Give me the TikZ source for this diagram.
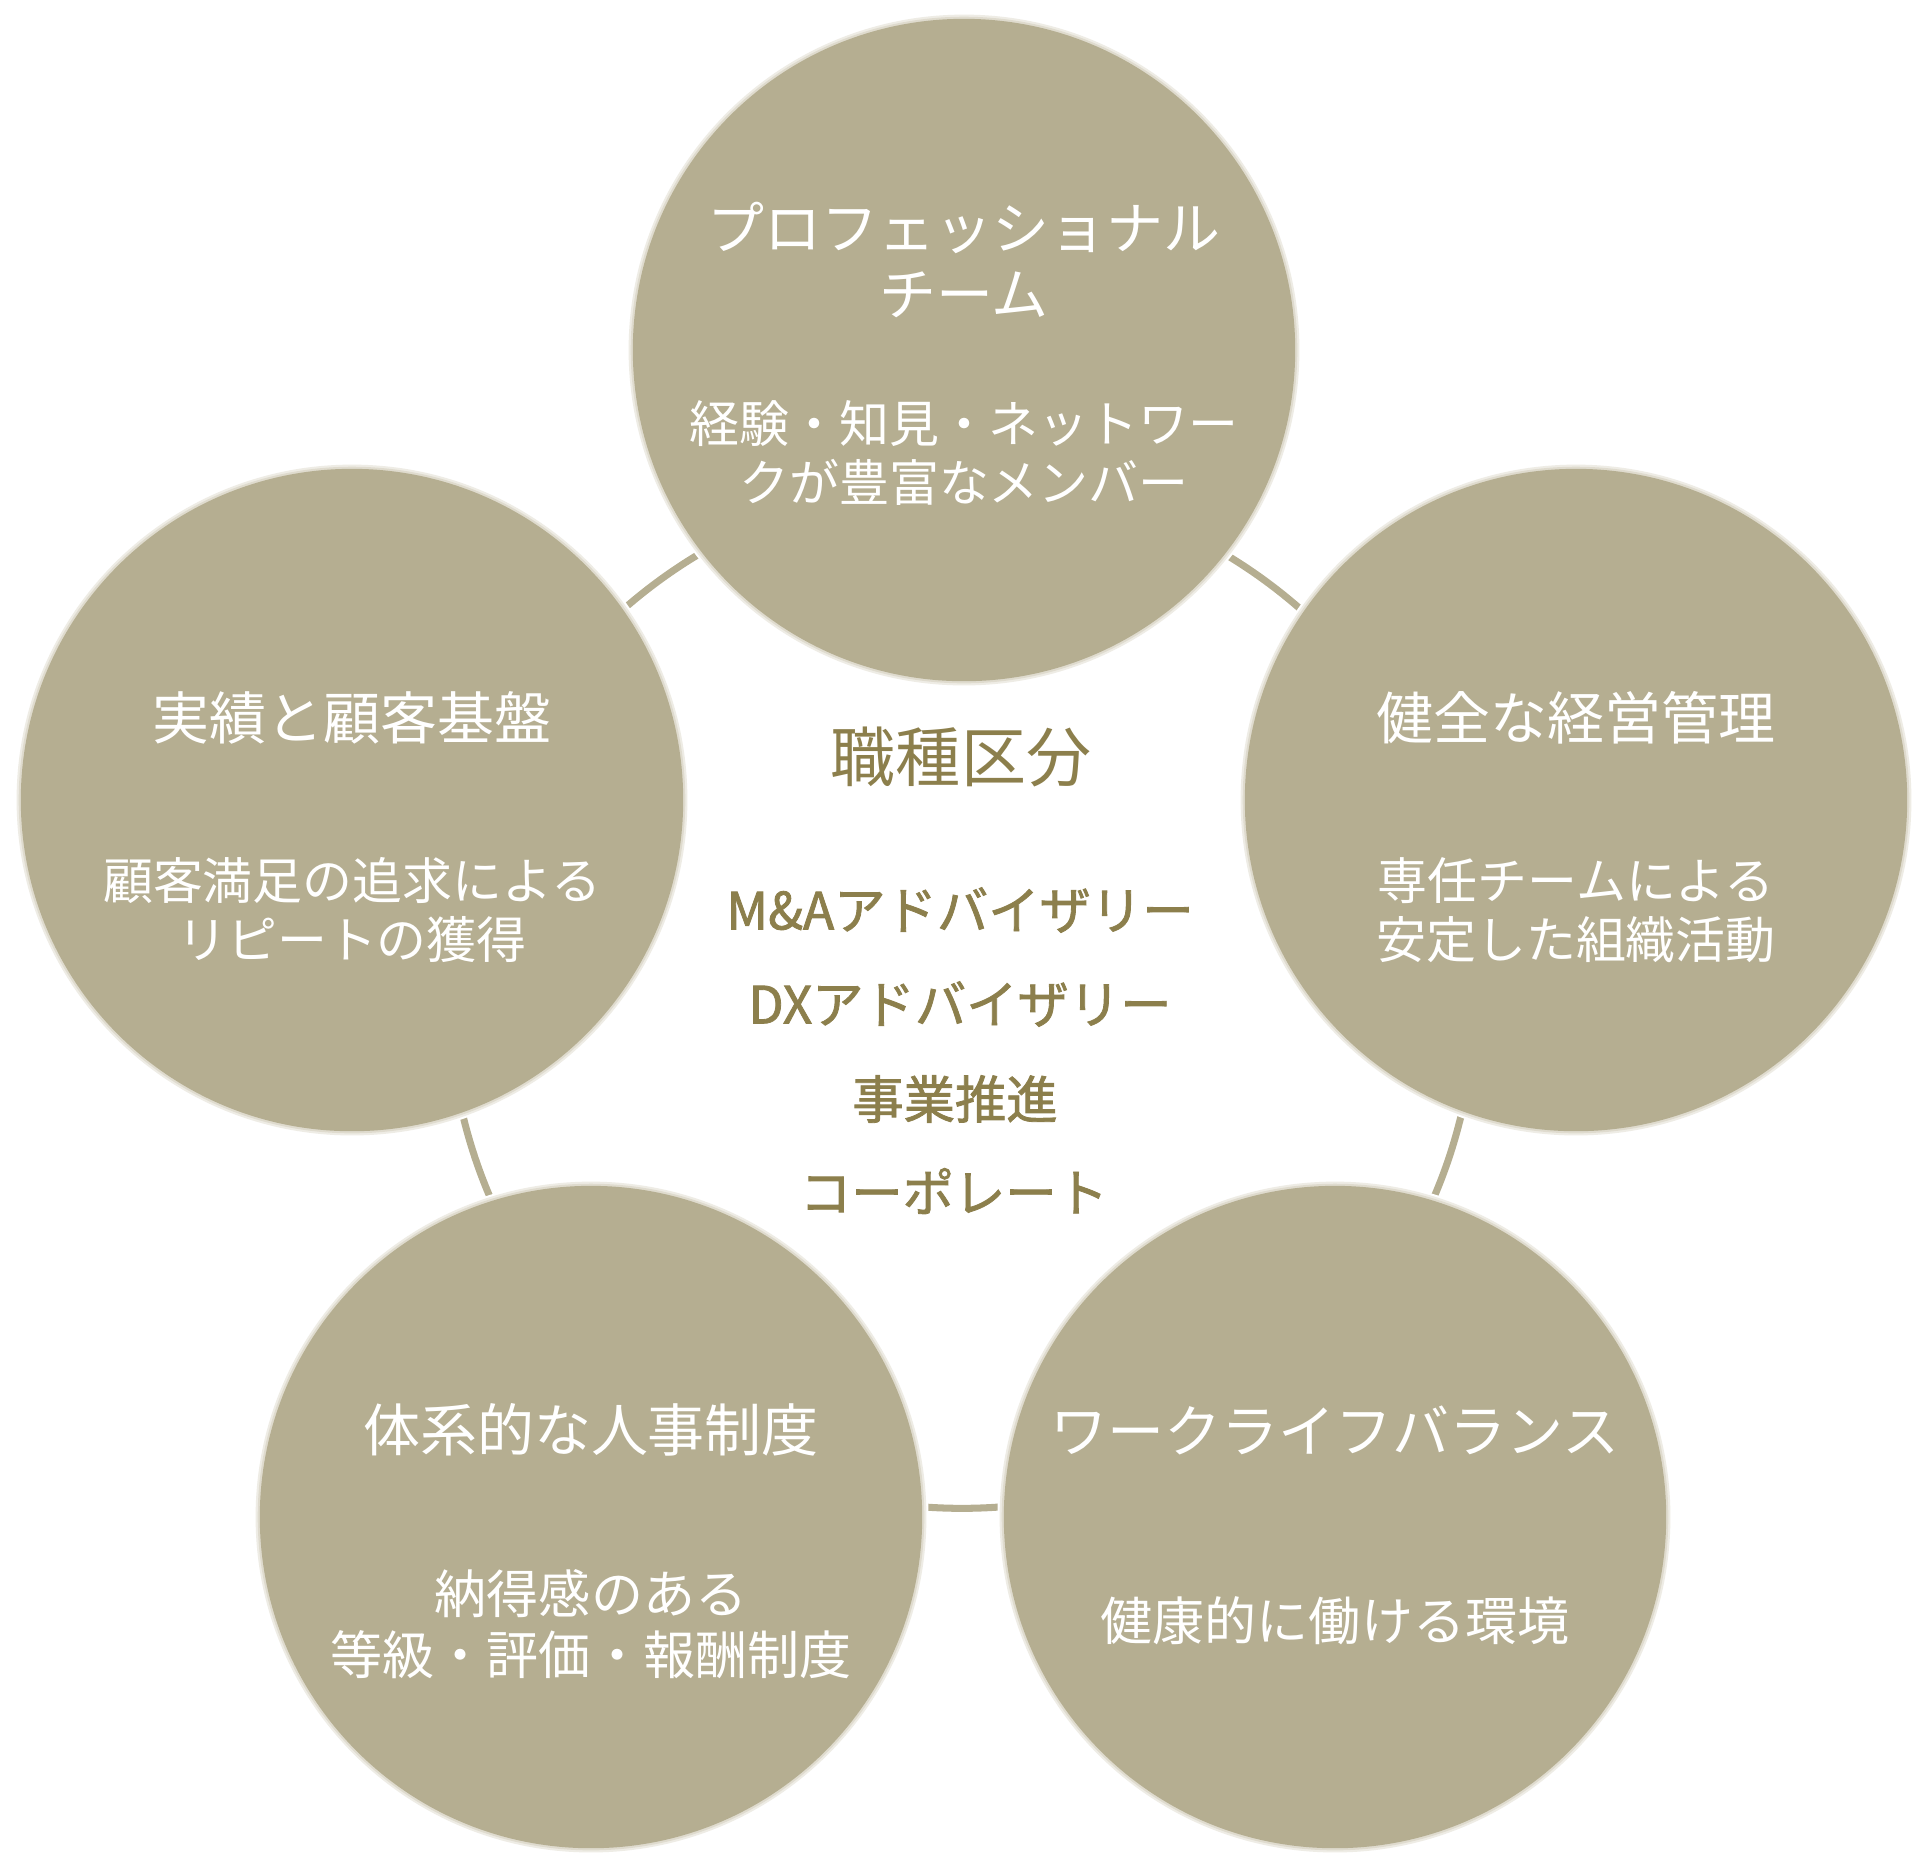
\documentclass[tikz,border=0pt]{standalone}
\usepackage{fontspec}
\setmainfont{Noto Sans CJK JP}
\newfontfamily\jobfont[FakeBold=1.6]{Noto Sans CJK JP}
\usetikzlibrary{positioning}
\definecolor{khaki}{HTML}{B5AE91}
\definecolor{olive}{HTML}{8C7F4C}
\definecolor{halo}{HTML}{D9D5C5}

\begin{document}
\begin{tikzpicture}[x=0.01cm, y=-0.01cm,
	ball/.style={circle, fill=khaki, minimum size=6.62cm, inner sep=0pt,
		preaction={draw=white, line width=3.6pt}, preaction={draw=halo!45, line width=2.4pt},
		preaction={draw=halo!85, line width=1.2pt}},
	head/.style={white, align=center, font=\fontsize{16.2}{18.5}\selectfont},
	body/.style={white, align=center, font=\fontsize{14.2}{16.8}\selectfont},
	job/.style={olive, font=\jobfont\fontsize{14.6}{16}\selectfont}]
	\useasboundingbox (0,0) rectangle (1925,1868);
	\coordinate (hub) at (962,995);
	\draw[khaki, line width=2pt] (hub) circle[radius=5.13cm];
	% the five circles round the hub
	\node[ball] (pro) at (964,350) {};
	\node[ball] (rec) at (352,800) {};
	\node[ball] (mgt) at (1576,800) {};
	\node[ball] (hr) at (591,1517) {};
	\node[ball] (wlb) at (1335,1517) {};
	\node[head] (pro-h) at ([yshift=0.9cm]pro.center) {プロフェッショナル\\チーム};
	\node[body] (pro-b) at ([yshift=-1.03cm]pro.center) {経験・知見・ネットワー\\クが豊富なメンバー};
	\node[head] (rec-h) at ([yshift=0.82cm]rec.center) {実績と顧客基盤};
	\node[body] (rec-b) at ([yshift=-1.1cm]rec.center) {顧客満足の追求による\\リピートの獲得};
	\node[head] (mgt-h) at ([yshift=0.82cm]mgt.center) {健全な経営管理};
	\node[body] (mgt-b) at ([yshift=-1.1cm]mgt.center) {専任チームによる\\安定した組織活動};
	\node[head] (hr-h) at ([yshift=0.87cm]hr.center) {体系的な人事制度};
	\node[body, font=\fontsize{14.8}{17.4}\selectfont] (hr-b) at ([yshift=-1.07cm]hr.center) {納得感のある\\等級・評価・報酬制度};
	\node[head] (wlb-h) at ([yshift=0.87cm]wlb.center) {ワークライフバランス};
	\node[body, font=\fontsize{14.8}{17.4}\selectfont] (wlb-b) at ([yshift=-1.04cm]wlb.center) {健康的に働ける環境};
	% centre list
	\node[olive, font=\fontsize{18.5}{20}\selectfont] (kind) at (961,757) {職種区分};
	\node[job] (ma) at (960,910) {M\&Aアドバイザリー};
	\node[job] (dx) at (960,1004) {DXアドバイザリー};
	\node[job] (biz) at (955,1099) {事業推進};
	\node[job] (corp) at (954,1191) {コーポレート};
\end{tikzpicture}
\end{document}
